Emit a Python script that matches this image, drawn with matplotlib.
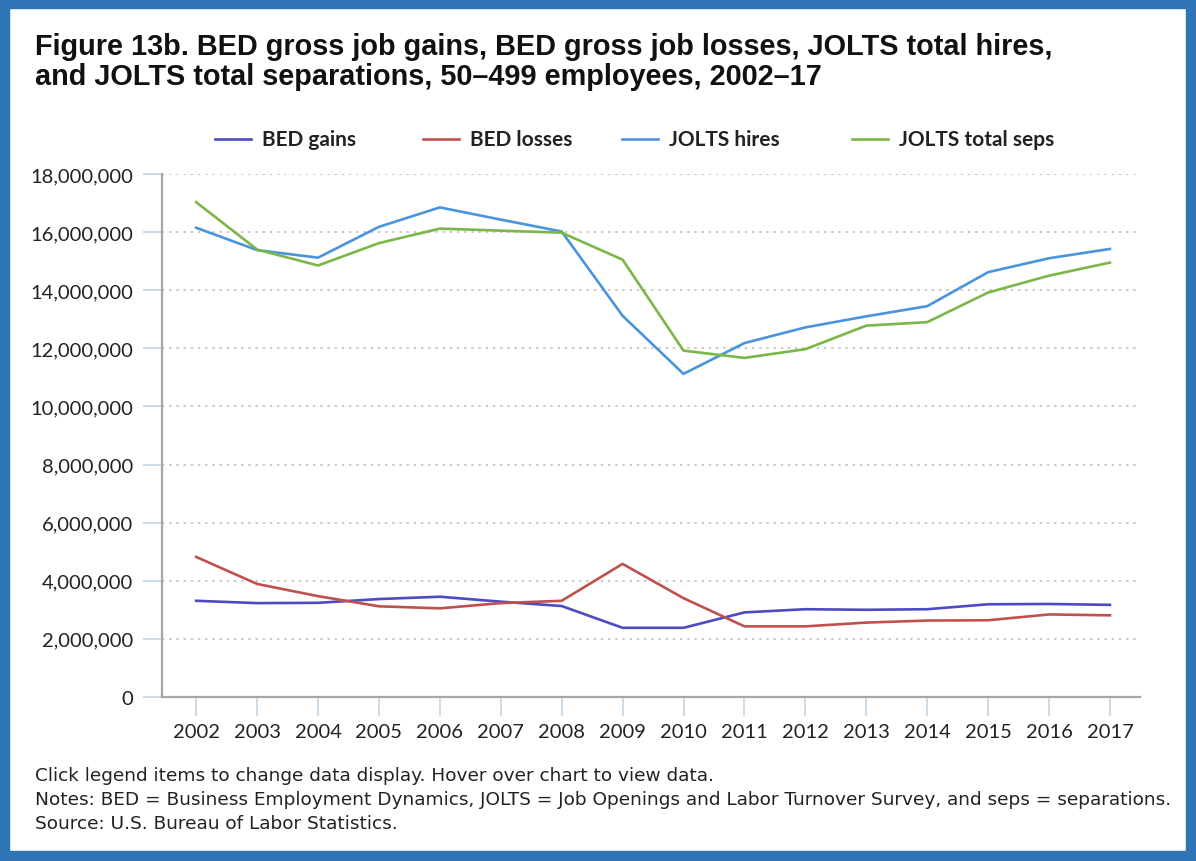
import matplotlib.pyplot as plt
from matplotlib.lines import Line2D
from matplotlib.patches import Rectangle
from matplotlib.ticker import FuncFormatter

# Data
years = list(range(2002, 2018))
bed_gains = [3.31, 3.23, 3.24, 3.37, 3.45, 3.28, 3.13, 2.38, 2.38, 2.91, 3.02, 3.00, 3.02, 3.19, 3.20, 3.17]
bed_losses = [4.82, 3.89, 3.47, 3.12, 3.05, 3.23, 3.31, 4.58, 3.40, 2.43, 2.43, 2.56, 2.63, 2.64, 2.84, 2.81]
jolts_hires = [16.15, 15.38, 15.12, 16.18, 16.85, 16.43, 16.02, 13.12, 11.12, 12.18, 12.72, 13.10, 13.45, 14.62, 15.10, 15.42]
jolts_seps = [17.03, 15.40, 14.85, 15.62, 16.12, 16.05, 15.98, 15.05, 11.92, 11.67, 11.97, 12.78, 12.90, 13.92, 14.50, 14.95]

series = [
    ("BED gains", bed_gains, "#4B4BC3"),
    ("BED losses", bed_losses, "#C0504D"),
    ("JOLTS hires", jolts_hires, "#4A94DE"),
    ("JOLTS total seps", jolts_seps, "#7AB648"),
]
# legend item start positions (px from left)
legend_x = [215, 423, 622, 852]

W, H = 1196, 862
fig = plt.figure(figsize=(W / 100, H / 100), dpi=100)
ax = fig.add_axes([0.1355, 0.1903, 0.818, 0.6067])

for name, vals, color in series:
    ax.plot(years, [v * 1e6 for v in vals], color=color, lw=1.9, label=name)

ax.set_xlim(2001.44, 2017.5)
ax.set_ylim(0, 18e6)
ax.set_yticks(range(0, 18000001, 2000000))
ax.yaxis.set_major_formatter(FuncFormatter(lambda v, p: f"{int(v):,}"))
ax.set_xticks(years)

for y in range(2000000, 18000001, 2000000):
    ax.axhline(y, color="#C8C8C8", lw=1.4, ls=(0, (1.2, 2.5)), zorder=0)

for s in ["top", "right"]:
    ax.spines[s].set_visible(False)
ax.spines["left"].set_color("#A6A6A6")
ax.spines["left"].set_linewidth(1.6)
ax.spines["bottom"].set_color("#A6A6A6")
ax.spines["bottom"].set_linewidth(1.6)

ax.tick_params(axis="y", length=14, width=1.2, color="#C5D5E5", pad=7,
               labelsize=14.5, labelcolor="#222222")
ax.tick_params(axis="x", length=14, width=1.2, color="#C5D5E5", pad=5,
               labelsize=14.5, labelcolor="#222222")
for lab in ax.get_xticklabels() + ax.get_yticklabels():
    lab.set_family("Lato")

# Title
fig.text(0.029, 1 - 33 / H, "Figure 13b. BED gross job gains, BED gross job losses, JOLTS total hires,\n"
         "and JOLTS total separations, 50\u2013499 employees, 2002\u201317",
         fontsize=20.8, fontweight="bold", family="Liberation Sans", color="#111111",
         va="top", ha="left", linespacing=1.1)

# Legend, placed item by item
for (name, vals, color), x0 in zip(series, legend_x):
    yl = 1 - 140 / H
    fig.add_artist(Line2D([x0 / W, (x0 + 36) / W], [yl, yl], color=color, lw=1.9))
    fig.text((x0 + 47) / W, yl, name, fontsize=15, fontweight="bold", family="Lato",
             color="#222222", va="center", ha="left")

# Footer
notes = [
    "Click legend items to change data display. Hover over chart to view data.",
    "Notes: BED = Business Employment Dynamics, JOLTS = Job Openings and Labor Turnover Survey, and seps = separations.",
    "Source: U.S. Bureau of Labor Statistics.",
]
for i, t in enumerate(notes):
    fig.text(0.029, 1 - (776 + i * 24) / H, t, fontsize=13.3, family="DejaVu Sans",
             color="#222222", va="center", ha="left")

# Blue frame
fig.patches.append(Rectangle((0.0045, 0.006), 0.991, 0.988, transform=fig.transFigure,
                             fill=False, edgecolor="#2F75B5", lw=7.5))

fig.savefig("out.png", dpi=100)
